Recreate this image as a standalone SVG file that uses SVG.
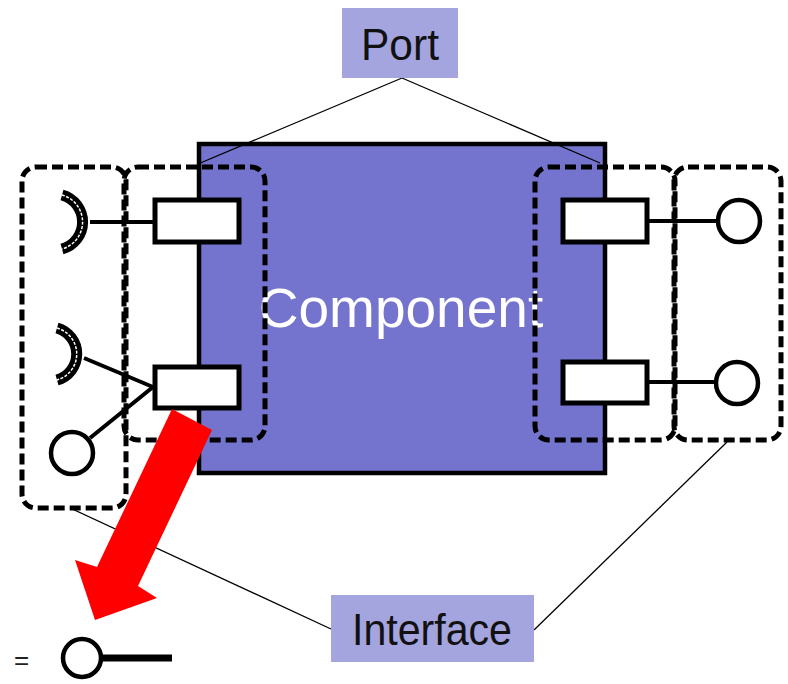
<svg xmlns="http://www.w3.org/2000/svg" width="788" height="684" viewBox="0 0 788 684">
<style>
.lbl{fill:#A4A4DF}
.lt{font-family:"Liberation Sans",Arial,sans-serif;fill:#111}
.dash{fill:none;stroke:#000;stroke-width:5;stroke-dasharray:11 5}
.port{fill:#fff;stroke:#000;stroke-width:5}
.wire{stroke:#000;stroke-width:4;fill:none}
.ball{fill:#fff;stroke:#000;stroke-width:4.5}
.thin{stroke:#000;stroke-width:1.3;fill:none}
.sock{fill:none;stroke:#000;stroke-width:11}
.sockin{fill:none;stroke:#fff;stroke-width:1.5;stroke-dasharray:3 1.5}
</style>
<rect width="788" height="684" fill="#fff"/>
<g id="component">
  <rect x="199" y="144" width="406" height="329" fill="#7474CE" stroke="#000" stroke-width="4.5"/>
  <text x="401" y="327" text-anchor="middle" font-family="'Liberation Sans',Arial,sans-serif" font-size="55" fill="#fff">Component</text>
</g>
<g id="connectors">
  <line class="thin" x1="402" y1="78" x2="198" y2="164"/>
  <line class="thin" x1="402" y1="78" x2="600" y2="163"/>
  <line class="thin" x1="70" y1="508" x2="331" y2="629"/>
  <line class="thin" x1="534" y1="630" x2="727" y2="442"/>
  <line class="wire" x1="90" y1="222" x2="153" y2="222"/>
  <line class="wire" x1="84" y1="358" x2="153" y2="387"/>
  <line class="wire" x1="153" y1="387" x2="90" y2="438"/>
  <line class="wire" x1="648" y1="221" x2="717" y2="221"/>
  <line class="wire" x1="648" y1="382" x2="715" y2="382"/>
</g>
<g id="interface-groups">
  <rect class="dash" x="22" y="167" width="104" height="341" rx="14"/>
  <rect class="dash" x="124" y="167" width="141" height="273" rx="14"/>
  <rect class="dash" x="535" y="167" width="140" height="273" rx="14"/>
  <rect class="dash" x="674" y="167" width="107" height="273" rx="14"/>
</g>
<g id="sockets">
  <path class="sock" d="M62,195 A28,28 0 0 1 62,249"/>
  <path class="sockin" d="M62,195 A28,28 0 0 1 62,249"/>
  <path class="sock" d="M57,328 A27,27 0 0 1 57,380"/>
  <path class="sockin" d="M57,328 A27,27 0 0 1 57,380"/>
</g>
<g id="balls">
  <circle class="ball" cx="72" cy="453" r="21"/>
  <circle class="ball" cx="739" cy="221" r="21"/>
  <circle class="ball" cx="737" cy="383" r="21"/>
</g>
<g id="ports">
  <rect class="port" x="155" y="200" width="84" height="42"/>
  <rect class="port" x="155" y="367" width="84" height="41"/>
  <rect class="port" x="563" y="200" width="84" height="42"/>
  <rect class="port" x="563" y="362" width="84" height="41"/>
</g>
<g id="arrow">
  <polygon points="172,409 212,430 138,586 157,598 95,620 75,560 97,567" fill="#FF0000"/>
</g>
<g id="port-label">
  <rect class="lbl" x="342" y="8" width="116" height="70"/>
  <text class="lt" x="400" y="60" text-anchor="middle" font-size="44" textLength="78" lengthAdjust="spacingAndGlyphs">Port</text>
</g>
<g id="interface-label">
  <rect class="lbl" x="331" y="595" width="203" height="67"/>
  <text class="lt" x="432" y="645" text-anchor="middle" font-size="45" textLength="160" lengthAdjust="spacingAndGlyphs">Interface</text>
</g>
<g id="legend">
  <text x="14" y="669" font-family="'Liberation Sans',Arial,sans-serif" font-size="26" fill="#222">=</text>
  <circle class="ball" cx="82" cy="658" r="19"/>
  <line x1="101" y1="658" x2="172" y2="658" stroke="#000" stroke-width="7"/>
</g>
</svg>
